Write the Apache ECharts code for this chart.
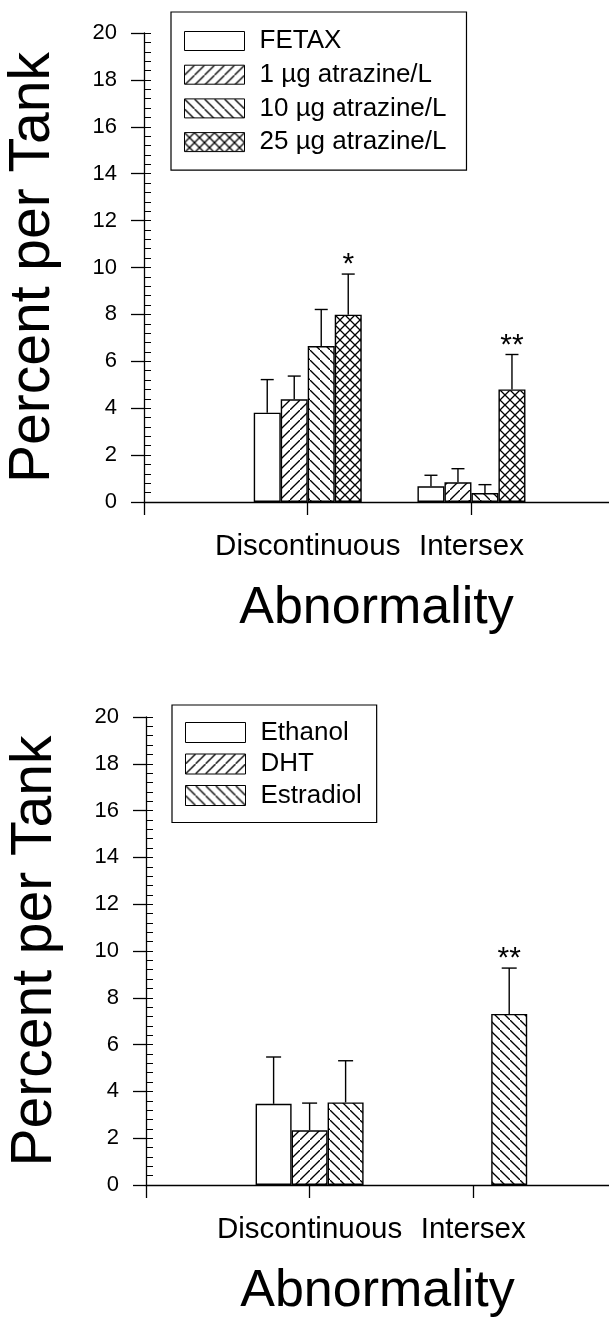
<!DOCTYPE html>
<html>
<head>
<meta charset="utf-8">
<script src="https://cdn.jsdelivr.net/npm/echarts@6/dist/echarts.min.js"></script>
<style>
  html, body { margin: 0; background: #fff; }
  #chart { width: 609px; height: 1319px; }
</style>
</head>
<body>
<div id="chart"></div>
<script>
// x categories sit at 1 and 2 on a value axis
const categories = ['Discontinuous', 'Intersex'];

// upper panel - atrazine
const atrazineNames = ['FETAX', '1 µg atrazine/L', '10 µg atrazine/L', '25 µg atrazine/L'];
const atrazineMean = [[3.81, 0.67], [4.38, 0.84], [6.65, 0.38], [7.99, 4.80]];
const atrazineUpper = [[5.22, 1.14], [5.37, 1.42], [8.21, 0.74], [9.72, 6.29]];
const atrazineStars = [['', ''], ['', ''], ['', ''], ['*', '**']];

// lower panel - hormone controls
const hormoneNames = ['Ethanol', 'DHT', 'Estradiol'];
const hormoneMean = [[3.47, null], [2.34, null], [3.53, 7.31]];
const hormoneUpper = [[5.47, null], [3.50, null], [5.31, 9.27]];
const hormoneStars = [['', ''], ['', ''], ['', '**']];

const FONT = 'Liberation Sans';

// hatch fills, drawn on a small canvas tile
function hatch(kind) {
  const s = 10;
  const c = document.createElement('canvas');
  c.width = s; c.height = s;
  const ctx = c.getContext('2d');
  ctx.fillStyle = '#fff';
  ctx.fillRect(0, 0, s, s);
  ctx.strokeStyle = '#000';
  ctx.lineWidth = 1.3;
  ctx.beginPath();
  if (kind === 'fwd' || kind === 'cross') { ctx.moveTo(-1, s + 1); ctx.lineTo(s + 1, -1); }
  if (kind === 'back' || kind === 'cross') { ctx.moveTo(-1, -1); ctx.lineTo(s + 1, s + 1); }
  ctx.stroke();
  return { image: c, repeat: 'repeat' };
}
const fills = ['#fff', hatch('fwd'), hatch('back'), hatch('cross')];

function errorBars(offset, capHalf, stars) {
  return function (params, api) {
    const x = api.value(0), mean = api.value(1), up = api.value(2);
    if (isNaN(mean) || isNaN(up)) return null;
    const base = api.coord([x, mean]);
    const top = api.coord([x, up]);
    const cx = base[0] + offset;
    const st = { stroke: '#000', lineWidth: 1.4 };
    const kids = [
      { type: 'line', shape: { x1: cx, y1: base[1], x2: cx, y2: top[1] }, style: st },
      { type: 'line', shape: { x1: cx - capHalf, y1: top[1], x2: cx + capHalf, y2: top[1] }, style: st }
    ];
    const star = stars[params.dataIndex];
    if (star) {
      kids.push({
        type: 'text', x: cx, y: top[1] + 6,
        style: { text: star, fill: '#000', font: '30px ' + FONT, align: 'center', verticalAlign: 'bottom' }
      });
    }
    return { type: 'group', children: kids };
  };
}

function panelSeries(names, means, uppers, stars, g, barWidth, capHalf) {
  const out = [];
  const n = names.length;
  names.forEach(function (name, i) {
    out.push({
      type: 'bar',
      name: name,
      xAxisIndex: g,
      yAxisIndex: g * 2,
      barWidth: barWidth,
      barGap: '0%',
      itemStyle: { color: fills[i], borderColor: '#000', borderWidth: 1.4 },
      data: means[i].map(function (v, k) { return [k + 1, v]; })
    });
  });
  names.forEach(function (name, i) {
    out.push({
      type: 'custom',
      name: name + ' err',
      xAxisIndex: g,
      yAxisIndex: g * 2,
      z: 3,
      renderItem: errorBars((i - (n - 1) / 2) * barWidth, capHalf, stars[i]),
      data: means[i].map(function (v, k) { return [k + 1, v, uppers[i][k]]; })
    });
  });
  return out;
}

function xAxis(g, max) {
  return {
    type: 'value', gridIndex: g, min: 0, max: max, interval: 1,
    name: 'Abnormality', nameLocation: 'middle', nameGap: 81,
    nameTextStyle: { fontFamily: FONT, fontSize: 52, color: '#000' },
    axisLine: { lineStyle: { color: '#000', width: 1.3 } },
    axisTick: { length: 13, lineStyle: { color: '#000', width: 1.3 }, customValues: [0, 1, 2] },
    axisLabel: {
      fontFamily: FONT, fontSize: 29.5, color: '#000', margin: 30,
      customValues: [1, 2],
      formatter: function (v) { return categories[v - 1] || ''; }
    },
    splitLine: { show: false }
  };
}

function yAxes(g) {
  return [{
    type: 'value', gridIndex: g, position: 'left', min: 0, max: 20, interval: 2,
    name: 'Percent per Tank', nameLocation: 'middle', nameGap: 82,
    nameTextStyle: { fontFamily: FONT, fontSize: 57, color: '#000' },
    axisLine: { show: true, lineStyle: { color: '#000', width: 1.3 } },
    axisTick: { length: 13, lineStyle: { color: '#000', width: 1.3 } },
    axisLabel: { fontFamily: FONT, fontSize: 22, color: '#000', margin: 27 },
    splitLine: { show: false }
  }, {
    // minor ticks on the inside
    type: 'value', gridIndex: g, position: 'left', offset: 0, min: 0, max: 20, interval: 2,
    axisLine: { show: false },
    axisLabel: { show: false },
    axisTick: { show: true, inside: true, length: 7, lineStyle: { color: '#000', width: 1 } },
    minorTick: { show: true, splitNumber: 5, length: 7, lineStyle: { color: '#000', width: 1 } },
    splitLine: { show: false }
  }];
}

function legend(names, left, top, itemH, gap, pad) {
  return {
    data: names,
    orient: 'vertical',
    left: left, top: top,
    icon: 'rect',
    itemWidth: 60, itemHeight: itemH, itemGap: gap,
    padding: pad,
    borderColor: '#000', borderWidth: 1.2,
    itemStyle: { borderColor: '#000', borderWidth: 1 },
    textStyle: { fontFamily: FONT, fontSize: 26, color: '#000', padding: [0, 0, 0, 10] },
    selectedMode: false
  };
}

const chart = echarts.init(document.getElementById('chart'));
chart.setOption({
  animation: false,
  backgroundColor: '#fff',
  grid: [
    { left: 144, top: 33, right: 0, height: 469, outerBoundsMode: 'none' },
    { left: 146, top: 717, right: 0, height: 468, outerBoundsMode: 'none' }
  ],
  xAxis: [xAxis(0, 2.84), xAxis(1, 2.83)],
  yAxis: yAxes(0).concat(yAxes(1)),
  legend: [
    legend(atrazineNames, 171, 12, 19, 7.7, [16, 20, 15, 13]),
    legend(hormoneNames, 172, 705, 20, 5.5, [14.5, 15, 14, 13])
  ],
  series: panelSeries(atrazineNames, atrazineMean, atrazineUpper, atrazineStars, 0, 27, 6.5)
    .concat(panelSeries(hormoneNames, hormoneMean, hormoneUpper, hormoneStars, 1, 36, 7.5))
});
</script>
</body>
</html>
